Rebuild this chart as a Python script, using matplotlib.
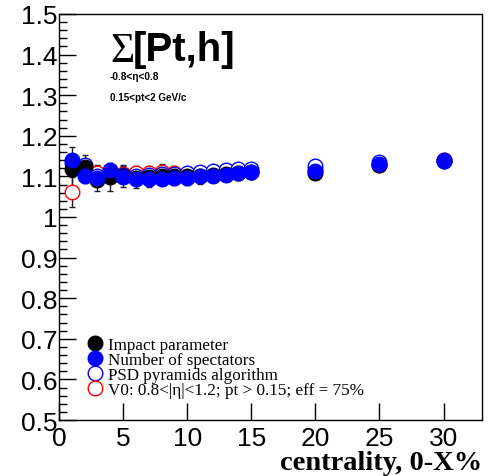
import matplotlib.pyplot as plt
from matplotlib.ticker import MultipleLocator, FixedLocator

cent = [1, 2, 3, 4, 5, 6, 7, 8, 9, 10, 11, 12, 13, 14, 15, 20, 25, 30]

impact = [1.118, 1.123, 1.092, 1.098, 1.100, 1.096, 1.098, 1.100, 1.101, 1.100,
          1.102, 1.104, 1.106, 1.108, 1.110, 1.108, 1.128, 1.138]
impact_err = [0.055, 0.030, 0.028, 0.035, 0.026, 0.025, 0.024, 0.022, 0.022, 0.020,
              0.020, 0.019, 0.018, 0.017, 0.016, 0.004, 0.004, 0.004]

spect = [1.140, 1.100, 1.095, 1.115, 1.098, 1.093, 1.094, 1.094, 1.096, 1.097,
         1.100, 1.102, 1.104, 1.108, 1.110, 1.113, 1.131, 1.138]

psd = [1.132, 1.128, 1.102, 1.103, 1.103, 1.100, 1.103, 1.106, 1.107, 1.108,
       1.111, 1.113, 1.116, 1.118, 1.117, 1.125, 1.135, 1.140]

v0 = [1.062, 1.105, 1.108, 1.104, 1.107, 1.108, 1.108, 1.112, 1.108, 1.105,
      1.108, 1.108, 1.111, 1.111, 1.112, 1.118, 1.128, 1.141]
v0_err = [0.037, 0.022, 0.020, 0.020, 0.020, 0.018, 0.018, 0.018, 0.017, 0.017,
          0.016, 0.016, 0.015, 0.015, 0.015, 0.004, 0.004, 0.004]

labels = ["Impact parameter", "Number of spectators", "PSD pyramids algorithm",
          "V0: 0.8<|\u03b7|<1.2; pt > 0.15; eff = 75%"]

plt.rcParams['font.family'] = ['Liberation Sans', 'DejaVu Sans']

fig = plt.figure(figsize=(4.9, 4.77), dpi=100)
ax = fig.add_axes([0.1204, 0.1174, 0.8633, 0.8512])

ms = 10.5
ax.errorbar(cent, v0, yerr=v0_err, fmt='none', ecolor='#222222', elinewidth=1.0,
            capsize=2.5, zorder=1)
ax.errorbar(cent, impact, yerr=impact_err, fmt='none', ecolor='#222222', elinewidth=1.0,
            capsize=2.5, zorder=1)
h_v0, = ax.plot(cent, v0, 'o', ms=ms, mfc='white', mec='red', mew=1.0, ls='none', zorder=2)
h_psd, = ax.plot(cent, psd, 'o', ms=ms, mfc='white', mec='blue', mew=1.0, ls='none', zorder=3)
h_imp, = ax.plot(cent, impact, 'o', ms=ms, mfc='black', mec='black', ls='none', zorder=4)
h_sp, = ax.plot(cent, spect, 'o', ms=ms, mfc='blue', mec='blue', ls='none', zorder=5)

ax.set_xlim(0, 33)
ax.set_ylim(0.5, 1.5)
ax.xaxis.set_major_locator(FixedLocator([0, 5, 10, 15, 20, 25, 30]))
ax.yaxis.set_minor_locator(MultipleLocator(0.02))
ax.set_yticks([0.5, 0.6, 0.7, 0.8, 0.9, 1.0, 1.1, 1.2, 1.3, 1.4, 1.5])
ax.set_yticklabels(['0.5', '0.6', '0.7', '0.8', '0.9', '1', '1.1', '1.2', '1.3', '1.4', '1.5'])
ax.tick_params(axis='both', which='both', direction='in', labelsize=19, width=1.0)
ax.tick_params(axis='x', which='major', length=12, pad=4)
ax.tick_params(axis='y', which='major', length=12, pad=1)
ax.tick_params(axis='y', which='minor', length=6)
for sp in ax.spines.values():
    sp.set_linewidth(1.0)

# title: sigma in a serif face, the rest bold sans
ax.text(0.1206, 0.885, "\u03a3", transform=ax.transAxes, fontsize=30,
        family='Liberation Serif', va='baseline', ha='left')
ax.text(0.175, 0.887, "[Pt,h]", transform=ax.transAxes, fontsize=29,
        fontweight='bold', va='baseline', ha='left')
ax.text(0.1206, 0.840, "-0.8<\u03b7<0.8", transform=ax.transAxes, fontsize=7.3,
        fontweight='bold', va='baseline', ha='left')
ax.text(0.1206, 0.788, "0.15<pt<2 GeV/c", transform=ax.transAxes, fontsize=7.1,
        fontweight='bold', va='baseline', ha='left')

leg = ax.legend([h_imp, h_sp, h_psd, h_v0], labels, loc='lower left',
                bbox_to_anchor=(0.0686, 0.054), frameon=False, handlelength=0.8,
                handletextpad=0.35, labelspacing=-0.06, borderpad=0, borderaxespad=0,
                prop={'family': 'Liberation Serif', 'size': 12.3})

fig.text(0.984, 0.0147, "centrality, 0-X%", ha='right', va='baseline',
         fontsize=20.5, fontweight='bold', family='Liberation Serif')

fig.savefig('out.png', dpi=100)
